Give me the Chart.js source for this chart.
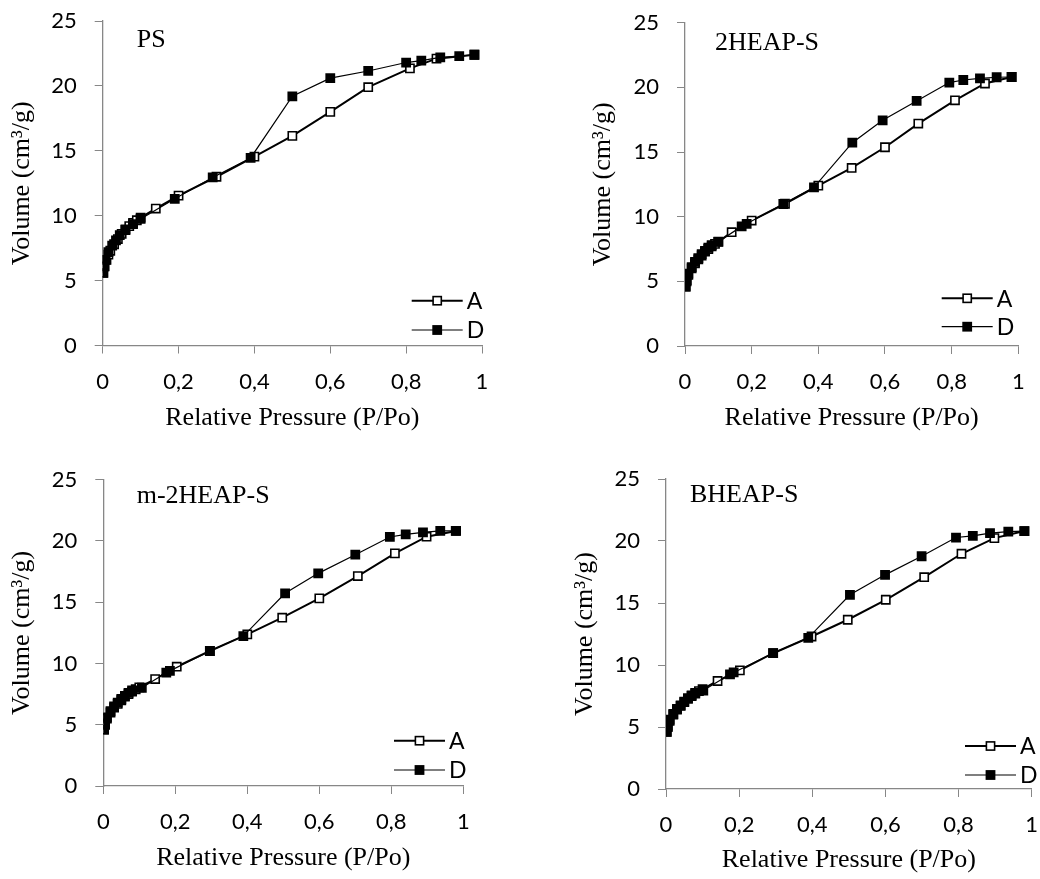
<!DOCTYPE html>
<html>
<head>
<meta charset="utf-8">
<script src="https://cdn.jsdelivr.net/npm/chart.js@4.4.1/dist/chart.umd.min.js"></script>
<style>
  html, body { margin: 0; padding: 0; background: #fff; width: 1040px; height: 879px; overflow: hidden; }
  canvas { position: absolute; }
</style>
</head>
<body>
<canvas id="pPS"></canvas>
<canvas id="p2HEAP"></canvas>
<canvas id="pM2HEAP"></canvas>
<canvas id="pBHEAP"></canvas>
<script>
// Nitrogen isotherms: A = adsorption branch, D = desorption branch
const seriesNames = ['A', 'D'];
const panelNames = ['PS', '2HEAP-S', 'm-2HEAP-S', 'BHEAP-S'];
const xTickValues = [0, 0.2, 0.4, 0.6, 0.8, 1];
const yTickValues = [0, 5, 10, 15, 20, 25];
const xAxisTitle = 'Relative Pressure (P/Po)';
const yAxisTitle = 'Volume (cm\u00B3/g)';

// PS
const psAdsX = [0.002, 0.005, 0.01, 0.015, 0.02, 0.03, 0.04, 0.05, 0.06, 0.07, 0.08, 0.09, 0.1, 0.14, 0.2, 0.3, 0.4, 0.5, 0.6, 0.7, 0.81, 0.88, 0.98];
const psAdsY = [5.6, 6.1, 6.6, 7.0, 7.3, 7.8, 8.2, 8.6, 8.9, 9.2, 9.45, 9.65, 9.85, 10.55, 11.55, 13.0, 14.55, 16.15, 18.0, 19.9, 21.35, 22.1, 22.4];
const psDesX = [0.98, 0.94, 0.89, 0.84, 0.8, 0.7, 0.6, 0.5, 0.39, 0.29, 0.19, 0.1, 0.08, 0.06, 0.045, 0.035, 0.025, 0.015, 0.008, 0.004, 0.001];
const psDesY = [22.4, 22.3, 22.2, 21.95, 21.8, 21.15, 20.6, 19.2, 14.45, 12.95, 11.3, 9.75, 9.35, 8.95, 8.5, 8.1, 7.7, 7.2, 6.6, 6.1, 5.6];

// 2HEAP-S
const h2AdsX = [0.002, 0.005, 0.01, 0.02, 0.03, 0.04, 0.05, 0.06, 0.07, 0.08, 0.09, 0.1, 0.14, 0.2, 0.3, 0.4, 0.5, 0.6, 0.7, 0.81, 0.9, 0.98];
const h2AdsY = [4.6, 5.0, 5.5, 6.0, 6.4, 6.7, 7.0, 7.3, 7.5, 7.7, 7.9, 8.05, 8.8, 9.7, 11.0, 12.4, 13.77, 15.37, 17.2, 19.0, 20.3, 20.8];
const h2DesX = [0.98, 0.935, 0.885, 0.835, 0.793, 0.695, 0.593, 0.502, 0.387, 0.295, 0.185, 0.17, 0.1, 0.08, 0.07, 0.06, 0.05, 0.04, 0.03, 0.02, 0.01, 0.005, 0.002];
const h2DesY = [20.8, 20.78, 20.7, 20.57, 20.37, 18.95, 17.45, 15.72, 12.27, 10.98, 9.45, 9.25, 8.07, 7.8, 7.6, 7.35, 7.1, 6.8, 6.5, 6.1, 5.6, 5.1, 4.6];

// m-2HEAP-S
const m2AdsX = [0.002, 0.005, 0.01, 0.02, 0.03, 0.04, 0.05, 0.06, 0.07, 0.08, 0.09, 0.1, 0.144, 0.204, 0.296, 0.4, 0.497, 0.6, 0.707, 0.81, 0.898, 0.98];
const m2AdsY = [4.6, 5.0, 5.5, 6.0, 6.4, 6.7, 7.0, 7.3, 7.5, 7.7, 7.9, 8.05, 8.73, 9.74, 11.02, 12.38, 13.74, 15.32, 17.14, 18.99, 20.35, 20.82];
const m2DesX = [0.979, 0.936, 0.888, 0.84, 0.796, 0.7, 0.597, 0.505, 0.389, 0.296, 0.185, 0.175, 0.107, 0.08, 0.07, 0.06, 0.05, 0.04, 0.03, 0.02, 0.01, 0.005, 0.002];
const m2DesY = [20.82, 20.82, 20.71, 20.54, 20.33, 18.88, 17.36, 15.73, 12.24, 11.02, 9.4, 9.25, 8.02, 7.8, 7.6, 7.35, 7.1, 6.8, 6.5, 6.1, 5.6, 5.1, 4.6];

// BHEAP-S
const bhAdsX = [0.002, 0.005, 0.01, 0.02, 0.03, 0.04, 0.05, 0.06, 0.07, 0.08, 0.09, 0.1, 0.141, 0.202, 0.293, 0.398, 0.497, 0.601, 0.706, 0.808, 0.898, 0.98];
const bhAdsY = [4.6, 5.0, 5.5, 6.0, 6.4, 6.7, 7.0, 7.3, 7.5, 7.7, 7.9, 8.05, 8.71, 9.57, 10.95, 12.3, 13.65, 15.26, 17.08, 18.97, 20.23, 20.8];
const bhDesX = [0.98, 0.936, 0.886, 0.839, 0.793, 0.699, 0.599, 0.503, 0.389, 0.293, 0.185, 0.175, 0.102, 0.08, 0.07, 0.06, 0.05, 0.04, 0.03, 0.02, 0.01, 0.005, 0.002];
const bhDesY = [20.8, 20.75, 20.63, 20.42, 20.28, 18.77, 17.27, 15.66, 12.19, 10.95, 9.4, 9.25, 7.94, 7.75, 7.55, 7.3, 7.05, 6.75, 6.45, 6.05, 5.6, 5.1, 4.6];

const SERIF = "'Liberation Serif', 'Times New Roman', serif";
const SANS = "Lato, 'Open Sans', sans-serif";
const AXIS_GRAY = '#878787';
const TOP_PAD = 36;   // room above the plot for the top tick label
const RIGHT_PAD = 26; // room right of the plot for the last tick label

const toPoints = (xs, ys) => xs.map((x, i) => ({ x, y: ys[i] }));
const fmtComma = v => String(Math.round(v * 10) / 10).replace('.', ',');

// Panel label and the in-plot legend (line with centred square marker)
const panelDecor = {
  id: 'panelDecor',
  afterDatasetsDraw(chart, args, opts) {
    const { ctx, chartArea } = chart;
    ctx.save();
    ctx.fillStyle = '#000';
    ctx.font = `26px ${SERIF}`;
    ctx.textAlign = 'left';
    ctx.textBaseline = 'alphabetic';
    ctx.fillText(opts.label, chartArea.left + opts.labelDx, chartArea.top + opts.labelDy);

    chart.data.datasets.forEach((ds, i) => {
      const y = chartArea.bottom - opts.legendDy[i];
      const x0 = chartArea.right - opts.legendDx;
      const x1 = x0 + 51;
      const xm = (x0 + x1) / 2;
      ctx.strokeStyle = ds.borderColor;
      ctx.lineWidth = ds.borderWidth;
      ctx.beginPath();
      ctx.moveTo(x0, y);
      ctx.lineTo(x1, y);
      ctx.stroke();
      const half = ds.pointRadius * Math.SQRT1_2;
      ctx.fillStyle = ds.pointBackgroundColor;
      ctx.fillRect(xm - half, y - half, half * 2, half * 2);
      ctx.lineWidth = ds.pointBorderWidth;
      ctx.strokeStyle = ds.pointBorderColor;
      ctx.strokeRect(xm - half, y - half, half * 2, half * 2);
      ctx.fillStyle = '#000';
      ctx.font = `23px ${SANS}`;
      ctx.textBaseline = 'middle';
      ctx.fillText(ds.label, x1 + 4, y + 1);
    });
    ctx.restore();
  }
};

function buildPanel(id, geom, label, ads, des, decor) {
  const cvs = document.getElementById(id);
  const cLeft = Math.round(geom.yTitleX - 13);
  const cTop = Math.floor(geom.t - TOP_PAD);
  const width = Math.ceil(geom.r + RIGHT_PAD - cLeft);
  const height = Math.round(geom.xTitleY + 13 - cTop);
  cvs.style.left = cLeft + 'px';
  cvs.style.top = cTop + 'px';
  cvs.width = width;
  cvs.height = height;
  cvs.style.width = width + 'px';
  cvs.style.height = height + 'px';

  const yW = geom.l - cLeft;
  const xH = cTop + height - geom.b;

  const axisCommon = {
    type: 'linear',
    grid: { display: true, drawOnChartArea: false, drawTicks: true, tickLength: 8, color: AXIS_GRAY, lineWidth: 1 },
    border: { display: true, color: AXIS_GRAY, width: 1.3 },
  };

  new Chart(cvs, {
    type: 'line',
    data: {
      datasets: [
        {
          label: seriesNames[0], data: toPoints(ads[0], ads[1]), order: 1,
          borderColor: '#000', borderWidth: 2, pointStyle: 'rect', pointRadius: 5.8,
          pointBackgroundColor: '#fff', pointBorderColor: '#000', pointBorderWidth: 1.6,
          tension: 0, fill: false
        },
        {
          label: seriesNames[1], data: toPoints(des[0], des[1]), order: 0,
          borderColor: '#000', borderWidth: 1.2, pointStyle: 'rect', pointRadius: 5.8,
          pointBackgroundColor: '#000', pointBorderColor: '#000', pointBorderWidth: 1.6,
          tension: 0, fill: false
        }
      ]
    },
    options: {
      responsive: false,
      animation: false,
      devicePixelRatio: 1,
      layout: { padding: { left: 0, top: geom.t - cTop, right: cLeft + width - geom.r, bottom: 0 } },
      plugins: {
        legend: { display: false },
        tooltip: { enabled: false },
        panelDecor: Object.assign({ label }, decor)
      },
      scales: {
        x: Object.assign({}, axisCommon, {
          min: 0, max: 1,
          afterBuildTicks: s => { s.ticks = xTickValues.map(v => ({ value: v })); },
          afterFit: s => { s.height = xH; },
          ticks: { color: '#000', font: { family: SANS, size: 22 }, padding: 15, maxRotation: 0, callback: v => fmtComma(v) },
          title: { display: true, text: xAxisTitle, color: '#000', font: { family: SERIF, size: 26, lineHeight: 1 }, padding: 0 }
        }),
        y: Object.assign({}, axisCommon, {
          min: 0, max: 25,
          afterBuildTicks: s => { s.ticks = yTickValues.map(v => ({ value: v })); },
          afterFit: s => { s.width = yW; },
          ticks: { color: '#000', font: { family: SANS, size: 22 }, padding: 18, callback: v => String(v) },
          title: { display: true, text: yAxisTitle, color: '#000', font: { family: SERIF, size: 26, lineHeight: 1 }, padding: 0 }
        })
      }
    },
    plugins: [panelDecor]
  });
}

buildPanel('pPS',
  { l: 102.7, r: 482, t: 21, b: 345.5, yTitleX: 22, xTitleY: 418 },
  panelNames[0], [psAdsX, psAdsY], [psDesX, psDesY],
  { labelDx: 34, labelDy: 26.3, legendDx: 70.3, legendDy: [44.8, 15.5] });

buildPanel('p2HEAP',
  { l: 685, r: 1018.3, t: 22.7, b: 346, yTitleX: 603, xTitleY: 418 },
  panelNames[1], [h2AdsX, h2AdsY], [h2DesX, h2DesY],
  { labelDx: 30, labelDy: 27.3, legendDx: 76.6, legendDy: [47.7, 19.3] });

buildPanel('pM2HEAP',
  { l: 103.3, r: 463.3, t: 479.75, b: 786, yTitleX: 22, xTitleY: 858 },
  panelNames[2], [m2AdsX, m2AdsY], [m2DesX, m2DesY],
  { labelDx: 33.4, labelDy: 23.6, legendDx: 69.3, legendDy: [45.3, 16] });

buildPanel('pBHEAP',
  { l: 666, r: 1031.7, t: 479, b: 789, yTitleX: 585, xTitleY: 860 },
  panelNames[3], [bhAdsX, bhAdsY], [bhDesX, bhDesY],
  { labelDx: 24, labelDy: 23.3, legendDx: 66.7, legendDy: [43, 14] });
</script>
</body>
</html>
